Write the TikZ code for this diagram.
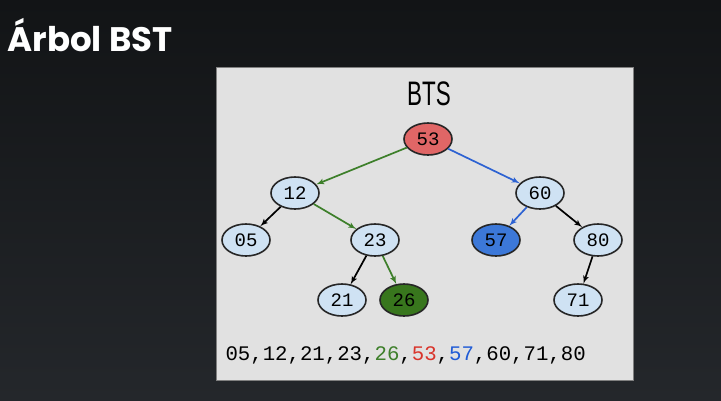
\documentclass[tikz,border=0pt]{standalone}
\usepackage{fontspec}
\usetikzlibrary{arrows}
\usetikzlibrary{shapes.geometric}
\newfontfamily\titlefont{Poppins}
\newfontfamily\headfont{Liberation Sans}
\newfontfamily\keyfont{Liberation Mono}
\definecolor{bgtop}{HTML}{121416}
\definecolor{bgbot}{HTML}{24272B}
\definecolor{panelfill}{HTML}{E1E1E1}
\definecolor{leaffill}{HTML}{CFE2F3}
\definecolor{rootfill}{HTML}{E06666}
\definecolor{bluefill}{HTML}{3C78D8}
\definecolor{greenfill}{HTML}{38761D}
\definecolor{greenline}{HTML}{3D7F2A}
\definecolor{blueline}{HTML}{2D62D2}
\definecolor{redtext}{HTML}{D9342B}
\definecolor{bluetext}{HTML}{1F5BD6}
\tikzstyle{key} = [draw=black!85, ellipse, fill=leaffill, line width=1.6pt, minimum width=48pt, minimum height=32pt, inner sep=0pt, font=\keyfont\fontsize{19}{19}\selectfont]
\tikzstyle{green edge} = [->, greenline, line width=1.7pt]
\tikzstyle{blue edge} = [->, blueline, line width=1.7pt]
\tikzstyle{plain edge} = [->, black, line width=1.7pt]

\begin{document}
\begin{tikzpicture}[>=latex', x=1pt, y=-1pt]
    \useasboundingbox (0,0) rectangle (721,400);
    \shade[top color=bgtop, bottom color=bgbot] (0,0) rectangle (721,400);
    \node[anchor=west, text=white, font=\titlefont\bfseries\fontsize{34}{34}\selectfont, name=title] at (4,35) {Árbol BST};

    % panel
    \draw[gray, line width=0.9pt, fill=panelfill] (216,67) rectangle (633,380);
    \node[font=\headfont\fontsize{34}{34}\selectfont, name=head] at (429,94) {\scalebox{0.66}[1]{BTS}};

    % keys
    \node[key, fill=rootfill, name=k53] at (428,139) {53};
    \node[key, name=k12] at (295,193) {12};
    \node[key, name=k60] at (540,193) {60};
    \node[key, name=k05] at (246,240) {05};
    \node[key, name=k23] at (375,240) {23};
    \node[key, fill=bluefill, name=k57] at (496,240) {57};
    \node[key, name=k80] at (598,240) {80};
    \node[key, name=k21] at (342,300) {21};
    \node[key, fill=greenfill, name=k26] at (404,300) {26};
    \node[key, name=k71] at (578,300) {71};

    \draw[green edge] (k53) -- (k12);
    \draw[blue edge] (k53) -- (k60);
    \draw[plain edge] (k12) -- (k05);
    \draw[green edge] (k12) -- (k23);
    \draw[plain edge] (k23) -- (k21);
    \draw[green edge] (k23) -- (k26);
    \draw[blue edge] (k60) -- (k57);
    \draw[plain edge] (k60) -- (k80);
    \draw[plain edge] (k80) -- (k71);

    % in-order sequence
    \node[anchor=west, font=\keyfont\fontsize{20.7}{20.7}\selectfont, name=order] at (222,355)
       {05,12,21,23,\textcolor{greenline}{26},\textcolor{redtext}{53},\textcolor{bluetext}{57},60,71,80};
\end{tikzpicture}
\end{document}
